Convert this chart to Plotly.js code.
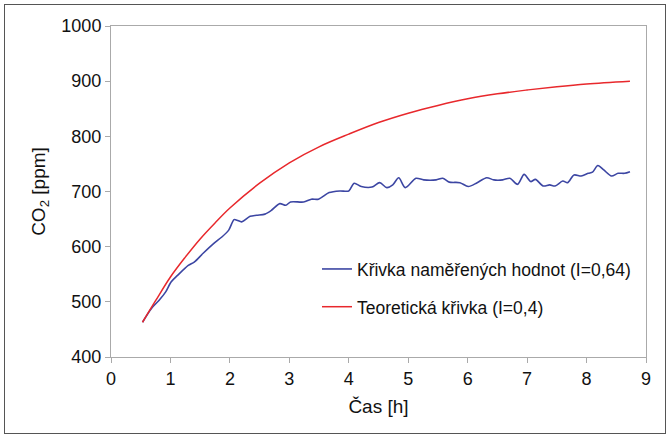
<!DOCTYPE html>
<html>
<head>
<meta charset="utf-8">
<script src="https://cdn.plot.ly/plotly-3.0.1.min.js"></script>
<style>
html,body{margin:0;padding:0;background:#fff;}
#wrap{position:relative;width:671px;height:437px;}
#chart{width:671px;height:437px;}
#frame{position:absolute;left:4px;top:4px;width:660px;height:428px;border:1.5px solid #555;pointer-events:none;}
</style>
</head>
<body>
<div id="wrap"><div id="chart"></div><div id="frame"></div></div>
<script>
const seriesNames = ["Křivka naměřených hodnot (I=0,64)", "Teoretická křivka (I=0,4)"];

const measuredTime = [0.53,0.68,0.81,0.92,1.01,1.12,1.30,1.40,1.55,1.73,1.87,1.98,2.07,2.12,2.20,2.34,2.45,2.59,2.70,2.84,2.94,3.02,3.24,3.37,3.49,3.67,3.85,4.00,4.09,4.21,4.39,4.52,4.64,4.74,4.84,4.95,5.13,5.26,5.47,5.58,5.69,5.87,6.01,6.16,6.32,6.44,6.59,6.71,6.84,6.95,7.06,7.14,7.27,7.38,7.47,7.60,7.68,7.79,7.91,8.03,8.10,8.19,8.29,8.42,8.53,8.64,8.73];
const measuredCO2 = [463,488,503,518,536,548,566,572,588,606,618,630,649,648,645,655,657,659,666,678,675,681,681,686,686,698,701,701,715,709,708,716,707,712,725,707,724,721,721,724,717,716,709,716,725,721,721,724,713,731,718,722,710,712,710,719,716,730,728,733,735,747,739,728,733,733,736];

const theoryTime = [0.53,0.75,1.00,1.25,1.50,1.75,2.00,2.50,3.00,3.50,4.00,4.50,5.00,5.50,6.00,6.50,7.00,7.50,8.00,8.73];
const theoryCO2 = [463,502,545,581,614,643,670,715,752,781,804,825,842,856,868,877,884,890,895,900];

const xTicks = [0,1,2,3,4,5,6,7,8,9];
const yTicks = [400,500,600,700,800,900,1000];

const font = "'Liberation Sans', Arial, sans-serif";

const traces = [
  {x: measuredTime, y: measuredCO2, name: seriesNames[0], mode: 'lines', legendgroup: 'a',
   line: {color: '#3c46a3', width: 1.6, shape: 'spline', smoothing: 0.8}},
  {x: theoryTime, y: theoryCO2, name: seriesNames[1], mode: 'lines', legendgroup: 'b',
   line: {color: '#e8282c', width: 1.5, shape: 'spline', smoothing: 1}}
];

const axisCommon = {
  showgrid: false, zeroline: false, showline: true, linecolor: '#aaaaaa', linewidth: 1,
  mirror: true, ticks: 'outside', ticklen: 5, tickcolor: '#aaaaaa', tickwidth: 1,
  tickfont: {family: font, size: 18, color: '#111'}
};

const layout = {
  width: 671, height: 437,
  margin: {l: 111, r: 25, t: 26, b: 80},
  paper_bgcolor: '#fff', plot_bgcolor: '#fff',
  font: {family: font, color: '#111'},
  xaxis: Object.assign({}, axisCommon, {
    range: [0, 9], tickvals: xTicks, ticktext: xTicks.map(String),
    title: {text: 'Čas [h]', font: {family: font, size: 19, color: '#111'}, standoff: 12}
  }),
  yaxis: Object.assign({}, axisCommon, {
    range: [400, 1000], tickvals: yTicks, ticktext: yTicks.map(String),
    title: {text: 'CO<sub>2</sub> [ppm]', font: {family: font, size: 19, color: '#111'}, standoff: 10}
  }),
  showlegend: true,
  legend: {x: 0.385, y: 0.32, xanchor: 'left', yanchor: 'top', bgcolor: 'rgba(0,0,0,0)',
           traceorder: 'grouped', tracegroupgap: 12,
           font: {family: font, size: 17.5, color: '#111'}}
};

Plotly.newPlot('chart', traces, layout, {displayModeBar: false, staticPlot: true});
</script>
</body>
</html>
